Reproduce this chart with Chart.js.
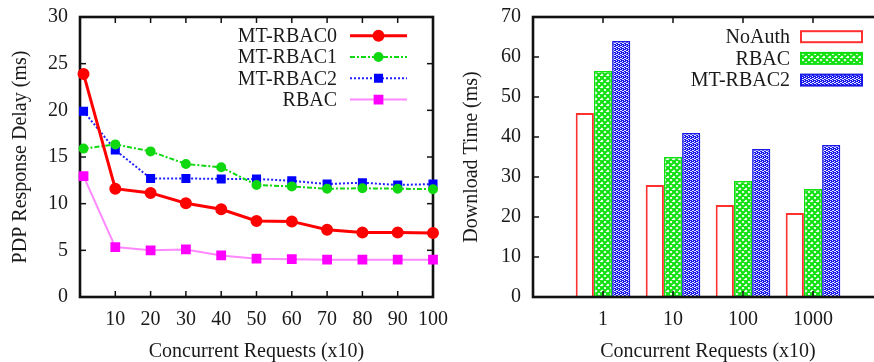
<!DOCTYPE html>
<html><head><meta charset="utf-8">
<script src="https://cdn.jsdelivr.net/npm/chart.js@4.4.0/dist/chart.umd.min.js"></script>
<style>
html,body{margin:0;padding:0;background:#fff;}
#wrap{position:relative;width:874px;height:362px;overflow:hidden;background:#fff;}
#c1{position:absolute;left:0;top:0;}
#c2{position:absolute;left:440px;top:0;}
</style></head><body>
<div id="wrap"><canvas id="c1" width="460" height="362"></canvas><canvas id="c2" width="450" height="362"></canvas></div>
<script>
// ---- Left chart data ----
const requestLevels = [1, 10, 20, 30, 40, 50, 60, 70, 80, 90, 100];
const mtRbac0Delay = [23.9, 11.6, 11.15, 10.05, 9.4, 8.15, 8.1, 7.2, 6.9, 6.9, 6.85];
const mtRbac1Delay = [15.9, 16.35, 15.6, 14.25, 13.9, 12.0, 11.85, 11.6, 11.65, 11.6, 11.55];
const mtRbac2Delay = [19.9, 15.75, 12.7, 12.7, 12.65, 12.65, 12.45, 12.1, 12.25, 12.0, 12.1];
const rbacDelay = [12.95, 5.35, 5.0, 5.1, 4.45, 4.1, 4.05, 4.0, 4.0, 4.0, 4.0];
const delayTicks = [0, 5, 10, 15, 20, 25, 30];

// ---- Right chart data ----
const downloadCategories = ['1', '10', '100', '1000'];
const noAuthTime = [46, 28, 23, 21];
const rbacTime = [56.5, 35, 29, 27];
const mtRbac2Time = [64, 41, 37, 38];

const FONT = 'Liberation Serif';
const TXT = '#1a1a1a';

function makePattern(kind) {
  const c = document.createElement('canvas');
  const g = c.getContext('2d');
  if (kind === 'cross') {
    c.width = 6; c.height = 6;
    g.fillStyle = '#fff'; g.fillRect(0, 0, 6, 6);
    g.strokeStyle = '#10e010'; g.lineWidth = 2.2;
    g.beginPath();
    for (let o = -6; o <= 6; o += 6) {
      g.moveTo(o - 1, -1); g.lineTo(o + 7, 7);
      g.moveTo(o + 7, -1); g.lineTo(o - 1, 7);
    }
    g.stroke();
  } else {
    c.width = 4; c.height = 4;
    g.fillStyle = '#1818e8'; g.fillRect(0, 0, 4, 4);
    g.fillStyle = '#e8e8ff';
    [[0,0],[2,1],[1,2],[3,3],[2,3],[0,2]].forEach(p => g.fillRect(p[0], p[1], 1, 1));
  }
  return g.createPattern(c, 'repeat');
}

function frameDraw(chart) {
  const {ctx, chartArea: a, scales} = chart;
  ctx.save();
  ctx.strokeStyle = '#111';
  ctx.lineWidth = 1.5;
  const L = 6;
  const seg = (x1, y1, x2, y2) => { ctx.beginPath(); ctx.moveTo(x1, y1); ctx.lineTo(x2, y2); ctx.stroke(); };
  scales.y.ticks.forEach(t => {
    const py = scales.y.getPixelForValue(t.value);
    seg(a.left, py, a.left + L, py);
    seg(a.right, py, a.right - L, py);
  });
  scales.x.ticks.forEach(t => {
    const px = scales.x.getPixelForValue(t.value);
    seg(px, a.bottom, px, a.bottom - L);
    seg(px, a.top, px, a.top + L);
  });
  ctx.lineWidth = 2.6;
  ctx.strokeRect(a.left, a.top, a.right - a.left, a.bottom - a.top);
  ctx.restore();
}
const frameTicks = {
  id: 'frameTicks',
  beforeDatasetsDraw(chart, args, opts) { if (opts.before) frameDraw(chart); },
  afterDatasetsDraw(chart, args, opts) { if (!opts.before) frameDraw(chart); }
};

const lineLegend = {
  id: 'lineLegend',
  afterDraw(chart, args, opts) {
    if (!opts.show) return;
    const {ctx, chartArea: a} = chart;
    ctx.save();
    ctx.font = '20px "' + FONT + '"';
    ctx.textAlign = 'right';
    ctx.textBaseline = 'middle';
    chart.data.datasets.forEach((ds, i) => {
      const y = a.top + 18.7 + i * 21.3;
      ctx.fillStyle = TXT;
      ctx.fillText(ds.label, a.right - 96, y + 1);
      const x1 = a.right - 83, x2 = a.right - 26;
      ctx.strokeStyle = ds.borderColor;
      ctx.lineWidth = ds.borderWidth;
      ctx.setLineDash(ds.borderDash || []);
      ctx.beginPath(); ctx.moveTo(x1, y); ctx.lineTo(x2, y); ctx.stroke();
      ctx.setLineDash([]);
      ctx.fillStyle = ds.pointBackgroundColor;
      ctx.strokeStyle = ds.pointBorderColor;
      Chart.helpers.drawPoint(ctx, {pointStyle: ds.pointStyle, radius: ds.pointRadius, rotation: 0, borderWidth: 1}, (x1 + x2) / 2, y);
    });
    ctx.restore();
  }
};

const barLegend = {
  id: 'barLegend',
  afterDraw(chart, args, opts) {
    if (!opts.show) return;
    const {ctx, chartArea: a} = chart;
    ctx.save();
    ctx.font = '20px "' + FONT + '"';
    ctx.textAlign = 'right';
    ctx.textBaseline = 'middle';
    chart.data.datasets.forEach((ds, i) => {
      const y = a.top + 19.7 + i * 21.7;
      ctx.fillStyle = TXT;
      ctx.fillText(ds.label, a.right - 93, y + 1);
      const x1 = a.right - 82, x2 = a.right - 21, h = 11;
      ctx.fillStyle = ds.backgroundColor;
      ctx.fillRect(x1, y - h / 2, x2 - x1, h);
      ctx.strokeStyle = ds.borderColor;
      ctx.lineWidth = 2;
      ctx.strokeRect(x1, y - h / 2, x2 - x1, h);
    });
    ctx.restore();
  }
};

const tickFont = {family: FONT, size: 20};
const titleFont = {family: FONT, size: 20, lineHeight: 1};

const fitX = s => { s.height = 65; s.paddingLeft = 0; s.paddingRight = 0; };
const fitY = w => s => { s.width = w; s.paddingTop = 0; s.paddingBottom = 0; };

const pts = arr => requestLevels.map((x, i) => ({x, y: arr[i]}));

new Chart(document.getElementById('c1'), {
  type: 'line',
  data: {
    datasets: [
      {label: 'MT-RBAC0', data: pts(mtRbac0Delay), borderColor: '#ff0000', borderWidth: 3,
       pointStyle: 'circle', pointRadius: 4.5, pointBackgroundColor: '#ff0000', pointBorderColor: '#ff0000', clip: false},
      {label: 'MT-RBAC1', data: pts(mtRbac1Delay), borderColor: '#10d810', borderWidth: 2, borderDash: [5, 2, 2, 2],
       pointStyle: 'circle', pointRadius: 4, pointBackgroundColor: '#10d810', pointBorderColor: '#10d810', clip: false},
      {label: 'MT-RBAC2', data: pts(mtRbac2Delay), borderColor: '#2020ff', borderWidth: 2, borderDash: [2, 2],
       pointStyle: 'rect', pointRadius: 5, pointBackgroundColor: '#0000ff', pointBorderColor: '#0000ff', clip: false},
      {label: 'RBAC', data: pts(rbacDelay), borderColor: '#ff88ff', borderWidth: 2,
       pointStyle: 'rect', pointRadius: 5.5, pointBackgroundColor: '#ff00ff', pointBorderColor: '#ff00ff', clip: false}
    ]
  },
  options: {
    responsive: false, animation: false, devicePixelRatio: 1,
    layout: {padding: {top: 17, right: 27, left: 0, bottom: 0}},
    plugins: {legend: {display: false}, tooltip: {enabled: false},
      frameTicks: {before: true}, lineLegend: {show: true}},
    elements: {line: {tension: 0}},
    scales: {
      x: {type: 'linear', min: 0, max: 100,
        grid: {display: false, drawTicks: false}, border: {display: false},
        ticks: {stepSize: 10, font: tickFont, color: TXT, padding: 11, maxRotation: 0, autoSkip: false,
          callback: v => v === 0 ? '' : String(v)},
        title: {display: true, text: 'Concurrent Requests (x10)', font: titleFont, color: TXT, padding: {top: 0, bottom: 0}},
        afterFit: fitX
      },
      y: {min: delayTicks[0], max: delayTicks[delayTicks.length - 1],
        grid: {display: false, drawTicks: false}, border: {display: false},
        ticks: {stepSize: 5, font: tickFont, color: TXT, padding: 12},
        title: {display: true, text: 'PDP Response Delay (ms)', font: titleFont, color: TXT, padding: {top: 11, bottom: 0}},
        afterFit: fitY(80)
      }
    }
  },
  plugins: [frameTicks, lineLegend]
});

const greenPat = makePattern('cross');
const bluePat = makePattern('dots');
const barPts = arr => arr.map((v, i) => ({x: i + 1, y: v}));

new Chart(document.getElementById('c2'), {
  type: 'bar',
  data: {
    datasets: [
      {label: 'NoAuth', data: barPts(noAuthTime), backgroundColor: '#ffffff', borderColor: '#ff3030', borderWidth: 2},
      {label: 'RBAC', data: barPts(rbacTime), backgroundColor: greenPat, borderColor: '#10e010', borderWidth: 1.5},
      {label: 'MT-RBAC2', data: barPts(mtRbac2Time), backgroundColor: bluePat, borderColor: '#1818e8', borderWidth: 1.5}
    ]
  },
  options: {
    responsive: false, animation: false, devicePixelRatio: 1,
    layout: {padding: {top: 17, right: 7, left: 0, bottom: 0}},
    datasets: {bar: {categoryPercentage: 0.78, barPercentage: 1.0}},
    plugins: {legend: {display: false}, tooltip: {enabled: false},
      frameTicks: {before: false}, barLegend: {show: true}},
    scales: {
      x: {type: 'linear', min: 0, max: downloadCategories.length + 1, offset: false,
        grid: {display: false, drawTicks: false, offset: false}, border: {display: false},
        ticks: {stepSize: 1, font: tickFont, color: TXT, padding: 11, maxRotation: 0, autoSkip: false,
          callback: v => downloadCategories[v - 1] || ''},
        title: {display: true, text: 'Concurrent Requests (x10)', font: titleFont, color: TXT, padding: {top: 0, bottom: 0}},
        afterFit: fitX
      },
      y: {min: 0, max: 70,
        grid: {display: false, drawTicks: false}, border: {display: false},
        ticks: {stepSize: 10, font: tickFont, color: TXT, padding: 12},
        title: {display: true, text: 'Download Time (ms)', font: titleFont, color: TXT, padding: {top: 22, bottom: 0}},
        afterFit: fitY(93)
      }
    }
  },
  plugins: [frameTicks, barLegend]
});
</script>
</body></html>
